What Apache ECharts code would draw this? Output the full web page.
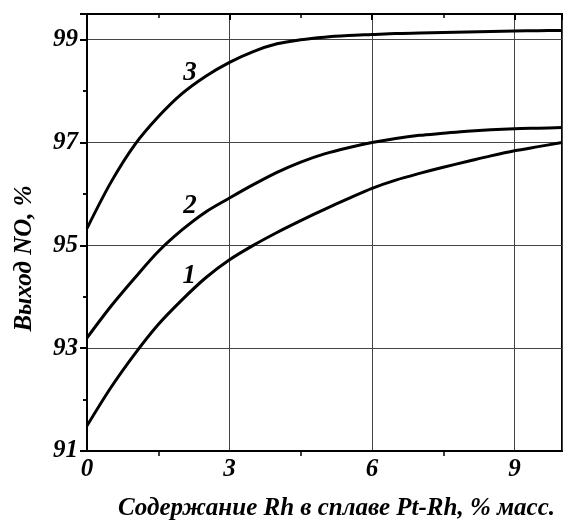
<!DOCTYPE html>
<html>
<head>
<meta charset="utf-8">
<script src="https://cdn.jsdelivr.net/npm/echarts@6/dist/echarts.min.js"></script>
<style>
  html, body { margin: 0; padding: 0; background: #fff; }
  #chart { width: 571px; height: 526px; }
</style>
</head>
<body>
<div id="chart"></div>
<script>
// Rh content, % mass
const xs = [0, 0.5, 1, 1.5, 2, 2.5, 3, 3.5, 4, 4.5, 5, 5.5, 6, 6.5, 7, 7.5, 8, 8.5, 9, 9.5, 10]
// NO yield, % for curves 1..3
const curve1 = [91.49, 92.23, 92.88, 93.46, 93.94, 94.37, 94.72, 95.0, 95.25, 95.48, 95.7, 95.91, 96.11, 96.27, 96.4, 96.52, 96.63, 96.74, 96.84, 96.92, 97.0]
const curve2 = [93.2, 93.81, 94.36, 94.88, 95.3, 95.65, 95.92, 96.18, 96.42, 96.62, 96.78, 96.9, 97.0, 97.08, 97.14, 97.18, 97.22, 97.25, 97.27, 97.28, 97.29]
const curve3 = [95.33, 96.22, 96.95, 97.5, 97.95, 98.29, 98.56, 98.77, 98.92, 99.0, 99.05, 99.08, 99.1, 99.12, 99.13, 99.14, 99.15, 99.16, 99.17, 99.175, 99.18]
const curveNames = ['1', '2', '3']
const labelPos = [[2.15, 94.4], [2.17, 95.77], [2.17, 98.36]]

const font = 'Liberation Serif'
const zip = ys => xs.map((x, i) => [x, ys[i]])

const lineSeries = [curve1, curve2, curve3].map((ys, i) => ({
  name: curveNames[i],
  type: 'line',
  data: zip(ys),
  smooth: 0.3,
  showSymbol: false,
  lineStyle: { color: '#000', width: 3 },
  z: 5
}))

const labelSeries = {
  type: 'scatter',
  symbolSize: 0,
  itemStyle: { color: 'transparent', opacity: 1 },
  data: labelPos.map((p, i) => ({ value: p, name: curveNames[i] })),
  label: {
    show: true,
    position: 'inside',
    formatter: p => p.name,
    fontFamily: font,
    fontStyle: 'italic',
    fontWeight: 'bold',
    fontSize: 27,
    color: '#000'
  },
  z: 6
}

const tickStyle = { fontFamily: font, fontStyle: 'italic', fontWeight: 'bold', fontSize: 25, color: '#000' }
const nameStyle = { fontFamily: font, fontStyle: 'italic', fontWeight: 'bold', fontSize: 25, color: '#000' }

let chart = echarts.init(document.getElementById('chart'))
chart.setOption({
  animation: false,
  grid: { left: 87, right: 9, top: 14, bottom: 73, show: true, borderColor: '#000', borderWidth: 2 },
  xAxis: [{
    type: 'value', min: 0, max: 10, interval: 3,
    name: 'Содержание Rh в сплаве Pt-Rh, % масс.',
    nameLocation: 'middle', nameGap: 45,
    nameTextStyle: Object.assign({ padding: [0, 0, 0, 24] }, nameStyle),
    axisLine: { lineStyle: { color: '#000', width: 2 } },
    axisTick: { show: false },
    minorTick: { show: true, splitNumber: 2, length: 5, lineStyle: { color: '#000', width: 1.5 } },
    axisLabel: Object.assign({ margin: 6, formatter: v => v === 10 ? '' : v }, tickStyle),
    splitLine: { show: true, lineStyle: { color: '#444', width: 1 } }
  }, {
    type: 'value', min: 0, max: 10, interval: 3, position: 'top',
    axisLine: { lineStyle: { color: '#000', width: 2 } },
    axisTick: { show: true, inside: true, length: 6, lineStyle: { color: '#000', width: 2 } },
    minorTick: { show: true, splitNumber: 2, length: 4, lineStyle: { color: '#000', width: 1.5 } },
    axisLabel: { show: false },
    splitLine: { show: false }
  }],
  yAxis: [{
    type: 'value', min: 91, max: 99.5, interval: 2,
    name: 'Выход NO, %',
    nameLocation: 'middle', nameGap: 50, nameRotate: 90,
    nameTextStyle: Object.assign({ padding: [0, 52, 0, 0] }, nameStyle),
    axisLine: { lineStyle: { color: '#000', width: 2 } },
    axisTick: { show: false },
    minorTick: { show: true, splitNumber: 2, length: 4, lineStyle: { color: '#000', width: 1.5 } },
    axisLabel: Object.assign({ margin: 9, formatter: v => v > 99 ? '' : v }, tickStyle),
    splitLine: { show: true, lineStyle: { color: '#444', width: 1 } }
  }, {
    type: 'value', min: 91, max: 99.5, interval: 2, position: 'right',
    axisLine: { lineStyle: { color: '#000', width: 2 } },
    axisTick: { show: true, inside: true, length: 7, lineStyle: { color: '#000', width: 2 } },
    minorTick: { show: true, splitNumber: 2, length: 4, lineStyle: { color: '#000', width: 1.5 } },
    axisLabel: { show: false },
    splitLine: { show: false }
  }],
  series: [...lineSeries, labelSeries]
})
</script>
</body>
</html>
